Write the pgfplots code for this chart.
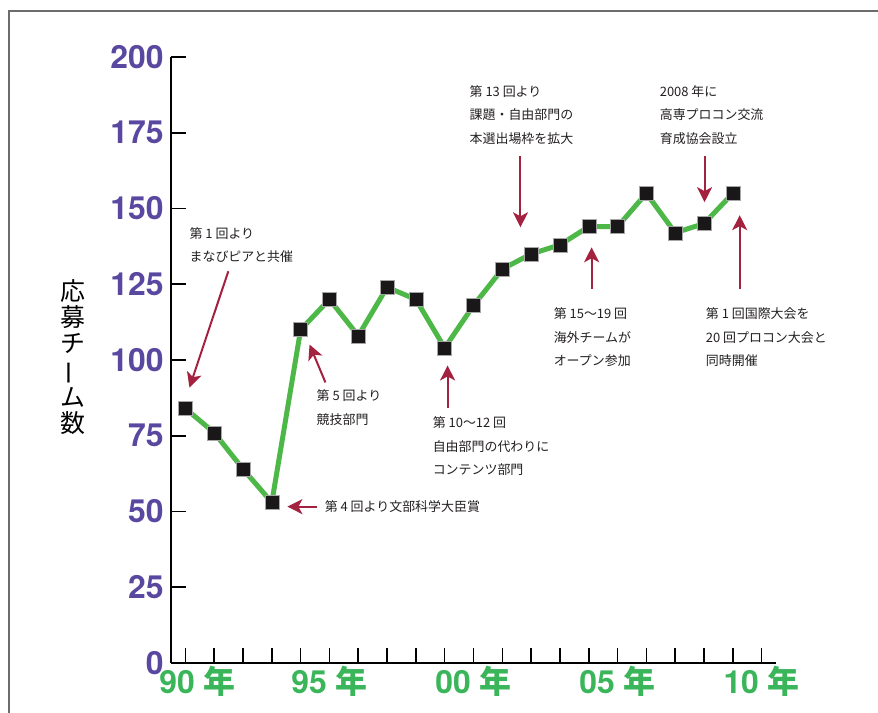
\documentclass[border=0pt]{standalone}
\usepackage{fontspec}
\usepackage{pgfplots}
\pgfplotsset{compat=1.18}
\usetikzlibrary{arrows.meta}
\setmainfont{TeX Gyre Heros}
\newfontfamily\cjk{Noto Sans CJK JP}
\newfontfamily\heros{TeX Gyre Heros}
\definecolor{tpurple}{RGB}{90,72,160}
\definecolor{tgreen}{RGB}{77,184,72}
\definecolor{tlabgreen}{RGB}{58,181,90}
\definecolor{tred}{RGB}{163,34,63}
\definecolor{ttext}{RGB}{35,31,32}
\definecolor{tmark}{RGB}{26,23,24}

\begin{document}
\begin{tikzpicture}[x=1bp,y=1bp,
  anno/.style={font=\cjk\fontsize{13}{23.5}\selectfont, align=left, inner sep=0pt, text=ttext},
  arr/.style={draw=tred, line width=2bp, -{Stealth[length=15bp,width=15bp,inset=4bp]}}]
\begin{axis}[
  at={(0,0)}, anchor=south west,
  scale only axis, width=605bp, height=606bp,
  xmin=1989.5, xmax=2010.5, ymin=0, ymax=200,
  axis x line*=bottom, axis y line*=left,
  axis line style={-, line width=1.6bp, black},
  xtick={1990,1995,2000,2005,2010},
  minor xtick={1991,1992,1993,1994,1996,1997,1998,1999,2001,2002,2003,2004,2006,2007,2008,2009},
  xticklabels={{\hspace*{24bp}90 {\cjk\bfseries 年}},{95 {\cjk\bfseries 年}},{00 {\cjk\bfseries 年}},{05 {\cjk\bfseries 年}},{10 {\cjk\bfseries 年}}},
  ytick={0,25,...,200},
  tick align=inside,
  major tick length=15bp, minor tick length=15bp,
  every tick/.style={line width=1.6bp, black},
  every minor tick/.style={line width=1.6bp, black},
  /pgf/number format/assume math mode=true,
  yticklabel style={font=\heros\bfseries\fontsize{32}{32}\selectfont, text=tpurple, xshift=-4bp},
  xticklabel style={font=\heros\bfseries\fontsize{32}{32}\selectfont, text=tlabgreen},
  ylabel={応\\募\\チ\\\rotatebox[origin=c]{90}{ー}\\ム\\数},
  ylabel style={rotate=-90, at={(axis description cs:-0.162,0.505)}, anchor=center,
    align=center, font=\cjk\fontsize{25}{26.2}\selectfont, text=black},
  clip=false,
]
\addplot[color=tgreen, line width=5bp, mark=square*, mark size=7bp,
  mark options={solid, fill=tmark, draw=gray!70, line width=0.4bp}]
  coordinates {
  (1990,84) (1991,76) (1992,64) (1993,53) (1994,110)
  (1995,120) (1996,108) (1997,124) (1998,120) (1999,104)
  (2000,118) (2001,130) (2002,135) (2003,138) (2004,144)
  (2005,144) (2006,155) (2007,142) (2008,145) (2009,155)
  };

\node[anno, anchor=base west] at (axis cs:1990.14,132.4) {第 1 回より\\まなびピアと共催};
\draw[arr] (axis cs:1991.49,129.3) -- (axis cs:1990.14,90.9);

\node[anno, anchor=base west] at (axis cs:1994.55,78.8) {第 5 回より\\競技部門};
\draw[arr] (axis cs:1994.86,92.6) -- (axis cs:1994.31,105.1);

\node[anno, anchor=base west] at (axis cs:1994.83,49.9) {第 4 回より文部科学大臣賞};
\draw[arr] (axis cs:1994.58,51.6) -- (axis cs:1993.54,51.6);

\node[anno, anchor=base west] at (axis cs:1998.58,62.2) {第 10〜12 回\\自由部門の代わりに\\コンテンツ部門};
\draw[arr] (axis cs:1999.10,84.3) -- (axis cs:1999.10,98.2);

\node[anno, anchor=base west] at (axis cs:1999.86,171.6) {第 13 回より\\課題・自由部門の\\本選出場枠を拡大};
\draw[arr] (axis cs:2001.63,167.3) -- (axis cs:2001.63,143.8);

\node[anno, anchor=base west] at (axis cs:2002.78,98.2) {第 15〜19 回\\海外チームが\\オープン参加};
\draw[arr] (axis cs:2004.10,123.3) -- (axis cs:2004.10,137.2);

\node[anno, anchor=base west] at (axis cs:2006.46,171.6) {2008 年に\\高専プロコン交流\\育成協会設立};
\draw[arr] (axis cs:2008.02,167.3) -- (axis cs:2008.02,152.1);

\node[anno, anchor=base west] at (axis cs:2008.06,98.2) {第 1 回国際大会を\\20 回プロコン大会と\\同時開催};
\draw[arr] (axis cs:2009.24,123.3) -- (axis cs:2009.24,147.8);
\end{axis}
\draw[gray!85!black, line width=1.5bp] (-162bp,-50bp) -- (-162bp,652bp) -- (707bp,652bp);
\pgfresetboundingbox
\path[use as bounding box] (-171bp,-50bp) rectangle (707bp,663bp);
\end{tikzpicture}
\end{document}
